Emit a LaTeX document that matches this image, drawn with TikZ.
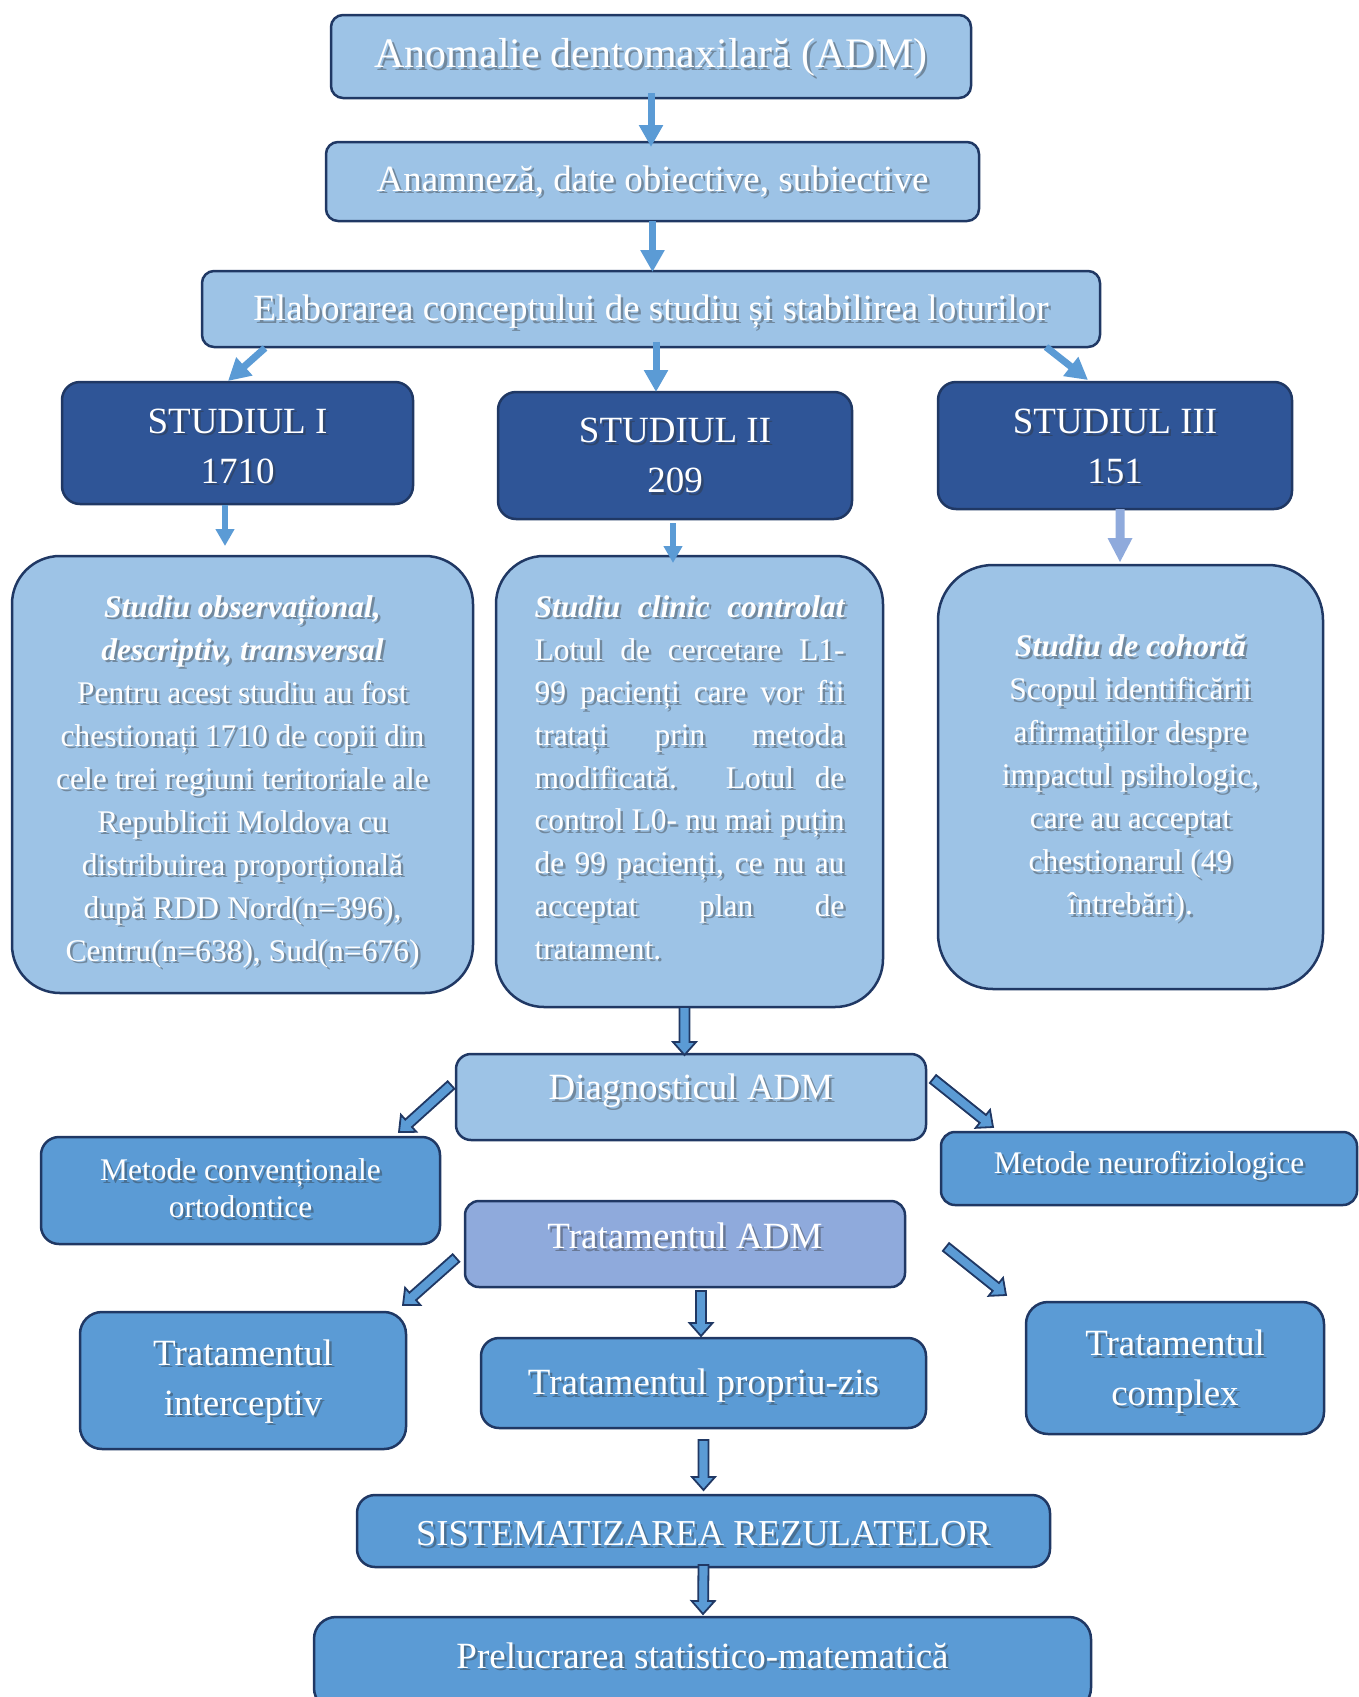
\documentclass[tikz,border=0pt]{standalone}
\usepackage{fontspec}
\setmainfont{Liberation Serif}
\usetikzlibrary{calc,arrows.meta}
\definecolor{lightb}{HTML}{9DC3E6}
\definecolor{darkb}{HTML}{2F5597}
\definecolor{midb}{HTML}{5B9BD5}
\definecolor{purb}{HTML}{8FAADC}
\definecolor{edgec}{HTML}{203864}
\definecolor{shadowc}{HTML}{303030}
\hyphenpenalty=10000
\exhyphenpenalty=10000
% box with shadowed white text: name, center, w, h, box style, text style, text y-offset, text
\newcommand\bx[8]{%
  \node[#5, minimum width=#3pt, minimum height=#4pt] (#1) at #2 {};
  \node[#6, text=shadowc, text opacity=.4, shift={(2.5,#7+2.5)}] (#1s) at (#1.center) {#8};
  \node[#6, text=white, shift={(0,#7)}] (#1t) at (#1.center) {#8};
}
% block arrow: style, from, to, half shaft, half head, head length
\newcommand\blockarr[6]{%
  \path #2 coordinate (ba-s) #3 coordinate (ba-t);
  \path ($(ba-t)!#6!(ba-s)$) coordinate (ba-h);
  \draw[#1] ($(ba-s)!#4!90:(ba-t)$) -- ($(ba-h)!#4!90:(ba-t)$) -- ($(ba-h)!#5!90:(ba-t)$)
    -- (ba-t) -- ($(ba-h)!#5!270:(ba-t)$) -- ($(ba-h)!#4!270:(ba-t)$) -- ($(ba-s)!#4!270:(ba-t)$) -- cycle;
}
\begin{document}
\begin{tikzpicture}[x=1pt,y=-1pt,
  bxbase/.style={draw=edgec, line width=2.5pt, inner sep=0pt, outer sep=0pt},
  lightbox/.style={bxbase, fill=lightb, rounded corners=#1},
  darkbox/.style={bxbase, fill=darkb, rounded corners=#1},
  midbox/.style={bxbase, fill=midb, rounded corners=#1},
  purbox/.style={bxbase, fill=purb, rounded corners=#1},
  txt/.style={align=center, inner sep=0pt, outer sep=0pt},
  tA/.style={txt, font=\fontsize{42}{50}\selectfont},
  tB/.style={txt, font=\fontsize{37}{44}\selectfont},
  tS/.style={txt, font=\fontsize{37}{50}\selectfont},
  tSi/.style={txt, font=\fontsize{36.5}{44}\selectfont},
  tM/.style={txt, font=\fontsize{31.5}{37}\selectfont},
  tBig/.style={txt, font=\fontsize{31.5}{43}\selectfont},
  tJust/.style={txt, align=justify, text width=310pt, font=\fontsize{31.5}{42.7}\selectfont},
  sarrow/.style={draw=midb, line width=7pt, -{Triangle[width=23pt,length=22pt]}},
  sarrowS/.style={draw=midb, line width=6pt, -{Triangle[width=18pt,length=17pt]}},
  barrowS/.style={fill=midb, draw=edgec, line width=1.8pt, line join=miter},
  barrowL/.style={fill=purb, draw=none}
]
\useasboundingbox (0,0) rectangle (1359,1697);

\bx{anom}{(651,56.5)}{640}{83}{lightbox=12pt}{tA}{1}{Anomalie dentomaxilară (ADM)}
\bx{anam}{(652.5,181.5)}{653}{79}{lightbox=12pt}{tB}{0}{Anamneză, date obiective, subiective}
\bx{elab}{(651,309)}{898}{76}{lightbox=12pt}{tB}{3}{Elaborarea conceptului de studiu și stabilirea loturilor}
\bx{st1}{(237.5,443)}{351}{122}{darkbox=18pt}{tS}{3}{STUDIUL I\\1710}
\bx{st2}{(675,455.5)}{354}{127}{darkbox=18pt}{tS}{0}{STUDIUL II\\209}
\bx{st3}{(1115,445.5)}{354}{127}{darkbox=18pt}{tS}{1}{STUDIUL III\\151}
\bx{bA}{(242.5,774.5)}{461}{437}{lightbox=48pt}{tBig}{7}{{\bfseries\itshape Studiu observațional,}\\{\bfseries\itshape descriptiv, transversal}\\Pentru acest studiu au fost\\chestionați 1710 de copii din\\cele trei regiuni teritoriale ale\\Republicii Moldova cu\\distribuirea proporțională\\după RDD Nord(n=396),\\Centru(n=638), Sud(n=676)}
\bx{bB}{(689.5,781.5)}{387}{451}{lightbox=48pt}{tJust}{-4}{{\bfseries\itshape Studiu clinic controlat}\linebreak Lotul de cercetare L1-\linebreak 99 pacienți care vor fii\linebreak tratați prin metoda\linebreak modificată. Lotul de\linebreak control L0- nu mai puțin\linebreak de 99 pacienți, ce nu au\linebreak acceptat plan de\linebreak tratament.}
\bx{bC}{(1130.5,777)}{385}{424}{lightbox=55pt}{tBig}{1}{{\bfseries\itshape Studiu de cohortă}\\Scopul identificării\\afirmațiilor despre\\impactul psihologic,\\care au acceptat\\chestionarul (49\\întrebări).}
\bx{diag}{(691,1097)}{470}{86}{lightbox=15pt}{tB}{-6}{Diagnosticul ADM}
\bx{metc}{(240.5,1190.5)}{399}{107}{midbox=18pt}{tM}{-2}{Metode convenționale\\ortodontice}
\bx{neuro}{(1149,1168.5)}{416}{73}{midbox=14pt}{tM}{-3}{Metode neurofiziologice}
\bx{trat}{(685,1244)}{440}{86}{purbox=14pt}{tB}{-8}{Tratamentul ADM}
\bx{inter}{(243,1380.5)}{326}{137}{midbox=22pt}{tS}{1}{Tratamentul\\interceptiv}
\bx{prop}{(703.5,1383)}{445}{90}{midbox=18pt}{tB}{3}{Tratamentul propriu-zis}
\bx{compl}{(1175,1368)}{298}{132}{midbox=22pt}{tS}{4}{Tratamentul\\complex}
\bx{sist}{(703.5,1531)}{693}{72}{midbox=18pt}{tSi}{3}{SISTEMATIZAREA REZULATELOR}
\bx{prel}{(702.5,1663.5)}{777}{93}{midbox=22pt}{tB}{-8}{Prelucrarea statistico-matematică}

% simple arrows
\draw[sarrow] ($(anom.south)+(0,-5)$) -- ($(anom.south |- anam.north)+(0,5)$);
\draw[sarrow] (anam.south) -- ($(anam.south |- elab.north)+(0,1)$);
\draw[sarrow] ($(elab.south west)+(63,1)$) -- ($(st1.north west)+(166,-1)$);
\draw[sarrow] ($(elab.south)+(5,-5)$) -- ($(elab.south |- st2.north)+(5,0)$);
\draw[sarrow] ($(elab.south east)+(-54,0)$) -- ($(st3.north west)+(150,-2)$);
\draw[sarrowS] ($(st1.south)+(-12.5,1)$) -- ($(bA.north)+(-17.5,-10)$);
\draw[sarrowS] ($(st2.south)+(-2,4)$) -- ($(bB.north)+(-16.5,7)$);
% block arrows
\blockarr{barrowL}{($(st3.south)+(5,0)$)}{($(bC.north)+(-10.5,-3)$)}{4.5pt}{12.5pt}{24pt}
\blockarr{barrowS}{($(bB.south)+(-5,0)$)}{($(diag.north)+(-6.5,1)$)}{5pt}{11.5pt}{13pt}
\blockarr{barrowS}{($(diag.west)+(-5,-12)$)}{($(metc.north east)+(-41,-5)$)}{5pt}{11.5pt}{13pt}
\blockarr{barrowS}{($(diag.east)+(7,-18)$)}{($(neuro.north west)+(52,-5)$)}{5pt}{11.5pt}{13pt}
\blockarr{barrowS}{($(trat.west)+(-9,14)$)}{($(inter.north east)+(-3,-7)$)}{5pt}{11.5pt}{13pt}
\blockarr{barrowS}{($(trat.east)+(41,3)$)}{($(compl.north west)+(-20,-7)$)}{5pt}{11.5pt}{13pt}
\blockarr{barrowS}{($(trat.south)+(16,4)$)}{($(prop.north)+(-2.5,-2)$)}{5pt}{11.5pt}{13pt}
\blockarr{barrowS}{($(prop.south)+(0,12)$)}{($(sist.north)+(0,-5)$)}{5pt}{11.5pt}{13pt}
\blockarr{barrowS}{($(sist.south)+(0,-2)$)}{($(prel.north)+(0.5,-3)$)}{5pt}{11.5pt}{13pt}
\end{tikzpicture}
\end{document}
